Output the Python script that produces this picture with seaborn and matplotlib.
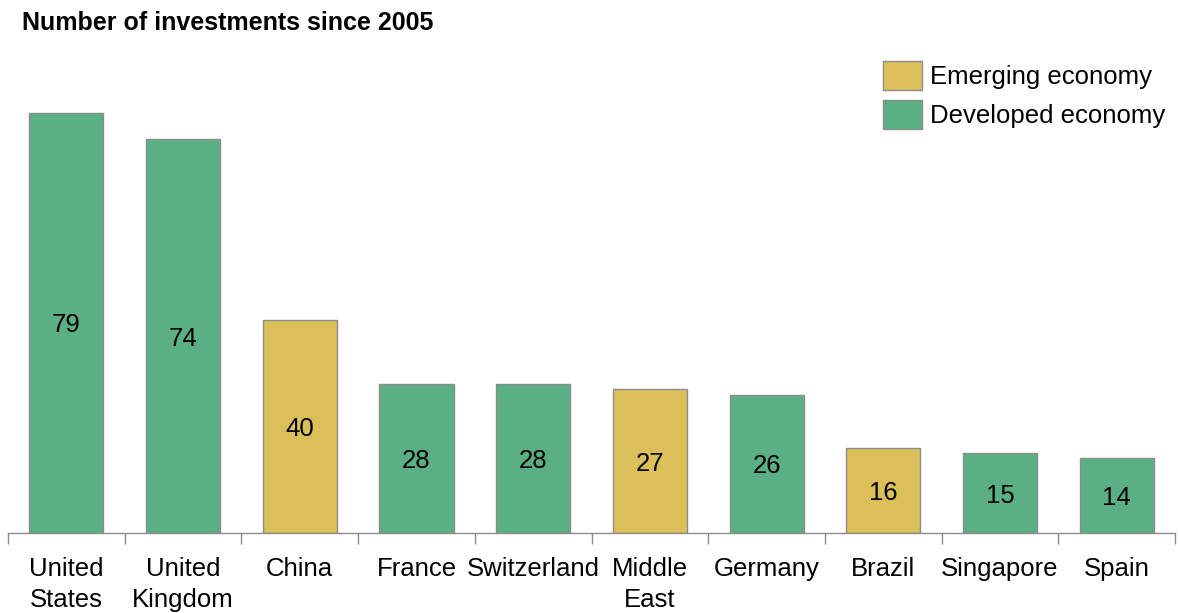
import pandas as pd
import matplotlib.pyplot as plt
import seaborn as sns
from matplotlib.patches import Patch

# --- data ---
COUNTRIES = ["United\nStates", "United\nKingdom", "China", "France", "Switzerland",
             "Middle\nEast", "Germany", "Brazil", "Singapore", "Spain"]
INVESTMENTS = [79, 74, 40, 28, 28, 27, 26, 16, 15, 14]
ECONOMY = ["Developed", "Developed", "Emerging", "Developed", "Developed",
           "Emerging", "Developed", "Emerging", "Developed", "Developed"]
LEGEND_LABELS = ["Emerging economy", "Developed economy"]

# --- style ---
COLORS = {"Emerging": "#DBC05A", "Developed": "#5BAF84"}
EDGE = "#8C8C8C"
FONT = "Liberation Sans"
FS = 18.5


def main():
    sns.set_style("white")
    plt.rcParams["font.family"] = [FONT, "DejaVu Sans"]
    plt.rcParams["text.color"] = "black"
    plt.rcParams["xtick.color"] = "black"

    df = pd.DataFrame({"country": COUNTRIES, "n": INVESTMENTS, "economy": ECONOMY})

    fig = plt.figure(figsize=(11.78, 6.13), dpi=100)
    ax = fig.add_axes([0.0068, 0.1305, 0.9907, 0.764])

    sns.barplot(data=df, x="country", y="n", hue="economy", palette=COLORS,
                dodge=False, width=0.635, saturation=1, edgecolor=EDGE,
                linewidth=1.0, legend=False, ax=ax)

    for i, v in enumerate(INVESTMENTS):
        ax.text(i, v / 2, str(v), ha="center", va="center_baseline",
                fontsize=FS, color="black")

    ax.set_xlim(-0.5, len(COUNTRIES) - 0.5)
    ax.set_ylim(0, 88)
    ax.set_xlabel("")
    ax.set_ylabel("")
    ax.set_yticks([])

    for s in ["top", "left", "right"]:
        ax.spines[s].set_visible(False)
    ax.spines["bottom"].set_color(EDGE)
    ax.spines["bottom"].set_linewidth(1.0)

    ax.set_xticks(range(len(COUNTRIES)))
    ax.set_xticklabels(COUNTRIES, fontsize=FS, linespacing=1.4, va="top")
    ax.tick_params(axis="x", which="major", length=0, pad=17)
    ax.set_xticks([i - 0.5 for i in range(len(COUNTRIES) + 1)], minor=True)
    ax.tick_params(axis="x", which="minor", length=8, color=EDGE, width=1.0,
                   direction="out", bottom=True)

    handles = [Patch(facecolor=COLORS["Emerging"], edgecolor=EDGE),
               Patch(facecolor=COLORS["Developed"], edgecolor=EDGE)]
    ax.legend(handles, LEGEND_LABELS, loc="upper right", bbox_to_anchor=(1.0, 1.03),
              frameon=False, fontsize=FS, handlelength=1.5, handleheight=1.35,
              handletextpad=0.3, labelspacing=0.4, borderaxespad=0.0)

    fig.text(0.019, 0.962, "Number of investments since 2005", fontsize=18,
             fontweight="bold", ha="left", va="center")

    fig.savefig("out.png", dpi=100)
    plt.close(fig)


if __name__ == "__main__":
    main()
